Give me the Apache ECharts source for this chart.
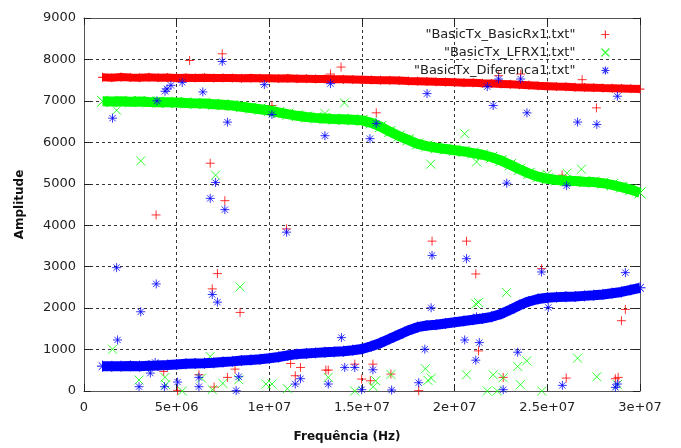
<!DOCTYPE html>
<html><head><meta charset="utf-8">
<script src="https://cdn.jsdelivr.net/npm/echarts@6/dist/echarts.min.js"></script>
<style>html,body{margin:0;padding:0;background:#fff}#c{width:681px;height:448px}</style>
</head><body><div id="c"></div>
<script>
// ---- data (frequency in MHz, amplitude) ----
const seriesNames = ['"BasicTx_BasicRx1.txt"', '"BasicTx_LFRX1.txt"', '"BasicTx_Diferenca1.txt"'];
const freqMHz = [1.0,1.5,2.0,2.5,3.0,3.5,4.0,4.5,5.0,5.5,6.0,6.5,7.0,7.5,8.0,8.5,9.0,9.5,10.0,10.5,11.0,11.5,12.0,12.5,13.0,13.5,14.0,14.5,15.0,15.5,16.0,16.5,17.0,17.5,18.0,18.5,19.0,19.5,20.0,20.5,21.0,21.5,22.0,22.5,23.0,23.5,24.0,24.5,25.0,25.5,26.0,26.5,27.0,27.5,28.0,28.5,29.0,29.5,30.0];
const basicRxBand = [7570,7560,7575,7565,7560,7570,7560,7565,7555,7560,7555,7560,7550,7555,7550,7545,7550,7545,7545,7540,7545,7535,7535,7530,7530,7525,7520,7515,7510,7505,7500,7495,7490,7480,7475,7470,7460,7455,7450,7440,7435,7425,7420,7410,7400,7390,7380,7365,7355,7345,7340,7330,7325,7320,7310,7305,7300,7295,7285];
const lfrxBand = [6990,6985,6990,6980,6985,6975,6970,6965,6960,6950,6940,6935,6920,6905,6890,6860,6830,6800,6770,6720,6680,6640,6610,6590,6575,6560,6555,6545,6530,6470,6380,6260,6150,6060,5960,5910,5870,5840,5810,5780,5740,5700,5640,5560,5460,5350,5250,5170,5120,5090,5075,5065,5050,5040,5015,4975,4920,4860,4780];
const diffBand = [600,595,600,605,600,610,615,625,640,655,665,670,680,700,715,735,750,765,790,820,860,890,905,920,935,945,960,985,1015,1080,1160,1260,1360,1460,1540,1580,1600,1630,1660,1690,1720,1750,1790,1860,1960,2070,2160,2220,2250,2265,2275,2280,2295,2310,2330,2360,2390,2440,2490];
const basicRxOutliers = [[5.7,7975],[7.46,8136],[10.14,6888],[13.3,7648],[13.87,7816],[15.77,6712],[22.37,7608],[23.56,7648],[25.8,5208],[26.88,7512],[27.65,6832],[6.81,5496],[7.6,4592],[3.89,4248],[10.93,3912],[7.2,2832],[6.92,2464],[8.42,1896],[18.78,3616],[20.64,3616],[21.14,2824],[24.69,2952],[29.21,1968],[29.0,1696],[21.29,968],[4.3,472],[5.05,16],[6.2,392],[7.02,96],[7.74,328],[8.15,528],[11.15,664],[11.4,368],[11.68,568],[13.05,504],[13.18,504],[14.61,648],[15.59,648],[14.98,288],[15.45,248],[16.56,408],[18.06,8],[22.62,328],[26.02,312],[28.82,328],[28.67,296]];
const lfrxOutliers = [[1.76,6775],[13.0,6696],[14.05,6952],[3.06,5552],[7.1,5208],[18.71,5472],[20.54,6208],[21.18,5528],[25.0,5232],[26.06,5256],[26.84,5352],[8.42,2512],[1.54,1008],[6.81,832],[22.8,2376],[21.14,2104],[21.29,2136],[23.89,728],[23.4,592],[26.63,792],[2.97,264],[4.37,328],[4.41,152],[5.3,0],[6.34,312],[6.92,32],[7.49,184],[8.35,272],[9.82,168],[10.14,168],[10.97,56],[13.18,328],[14.61,0],[15.74,248],[15.6,104],[16.56,400],[18.42,536],[18.56,256],[18.74,312],[20.64,392],[21.76,0],[22.08,392],[22.3,0],[22.62,320],[23.55,152],[24.7,0],[27.67,344],[28.78,152]];
const diffOutliers = [[7.46,7951],[1.54,6583],[3.94,7000],[4.37,7232],[4.48,7289],[4.69,7375],[5.3,7447],[6.41,7216],[7.74,6487],[9.73,7392],[10.14,6672],[13.0,6160],[13.3,7416],[15.77,6456],[15.43,6088],[18.51,7176],[21.76,7344],[22.37,7528],[22.08,6888],[23.56,7528],[23.9,6712],[22.81,5016],[26.04,4952],[26.63,6488],[27.67,6432],[28.78,7112],[7.1,5032],[6.81,4648],[7.6,4376],[10.93,3832],[1.76,2976],[3.9,2584],[6.92,2328],[7.2,2144],[3.06,1912],[1.81,1232],[13.89,1288],[18.78,3272],[20.64,3192],[24.69,2872],[29.21,2856],[18.73,2008],[21.18,1792],[25.05,2016],[20.54,1232],[21.33,1168],[18.39,1008],[21.14,744],[23.4,936],[15.59,512],[14.98,32],[16.6,24],[18.06,200],[22.62,32],[25.81,136],[28.78,168],[28.67,88],[3.58,432],[2.97,104],[4.34,104],[5.05,216],[6.2,328],[6.2,104],[8.21,8],[8.35,344],[11.4,168],[11.68,296],[13.18,168],[14.07,568],[14.61,568],[3.84,688]];

// ---- styles ----
const colors = ['#ff0000', '#00ff00', '#0000ff'];
const bandWidths = [8, 10, 10];
const symbols = [
  'path://M0,5L10,5M5,0L5,10',
  'path://M0,0L10,10M10,0L0,10',
  'path://M0,5L10,5M5,0L5,10M1.5,1.5L8.5,8.5M8.5,1.5L1.5,8.5'
];
const FONT = 'DejaVu Sans';
const toHz = mhz => mhz * 1e6;
const bandPts = band => freqMHz.map((f, i) => [toHz(f), band[i]]);
const outPts = arr => arr.map(p => [toHz(p[0]), p[1]]);
const bands = [basicRxBand, lfrxBand, diffBand];
const outs = [basicRxOutliers, lfrxOutliers, diffOutliers];

function fmtX(v) {
  if (v === 0) return '0';
  return v.toExponential().replace(/e\+(\d)$/, 'e+0$1');
}

const series = [];
for (let k = 0; k < 3; k++) {
  const st = {color: 'rgba(0,0,0,0)', borderColor: colors[k], borderWidth: 1};
  series.push({
    name: 'band' + k, type: 'line', data: bandPts(bands[k]),
    symbol: symbols[k], symbolSize: bandWidths[k] + 1, showSymbol: true,
    lineStyle: {color: colors[k], width: bandWidths[k]}, itemStyle: st,
    silent: true, animation: false, z: 2 + k
  });
  series.push({
    name: seriesNames[k], type: 'scatter', data: outPts(outs[k]),
    symbol: symbols[k], symbolSize: 9, itemStyle: st,
    silent: true, animation: false, z: 2 + k
  });
}

const axisLineStyle = {color: '#555', width: 1};
const chart = echarts.init(document.getElementById('c'), null, {renderer: 'canvas'});
chart.setOption({
  backgroundColor: '#fff',
  animation: false,
  grid: {left: 84, right: 41, top: 18, bottom: 55, containLabel: false},
  legend: {
    orient: 'vertical', right: 71, top: 28, align: 'right',
    itemWidth: 22, itemHeight: 8, itemGap: 5, padding: 0,
    symbolKeepAspect: true,
    data: seriesNames.map((n, k) => ({
      name: n, icon: symbols[k],
      itemStyle: {color: 'rgba(0,0,0,0)', borderColor: colors[k], borderWidth: 1.2}
    })),
    textStyle: {fontFamily: FONT, fontSize: 13, color: '#222', padding: [0, 14, 0, 0]},
    selectedMode: false
  },
  xAxis: [{
    type: 'value', min: 0, max: 3e7, interval: 5e6,
    name: 'Frequência (Hz)', nameLocation: 'middle', nameGap: 40,
    nameTextStyle: {fontFamily: FONT, fontSize: 12, fontWeight: 'bold', color: '#111', padding: [0, 30, 0, 0]},
    axisLine: {show: true, onZero: false, lineStyle: axisLineStyle},
    axisTick: {show: true, inside: true, length: 7, lineStyle: {color: '#222'}},
    axisLabel: {formatter: fmtX, fontFamily: FONT, fontSize: 13, color: '#222', margin: 10},
    splitLine: {show: true, lineStyle: {color: '#333', type: [3, 3], width: 1}}
  }, {
    type: 'value', min: 0, max: 3e7, interval: 5e6, position: 'top',
    axisLine: {show: true, onZero: false, lineStyle: axisLineStyle},
    axisTick: {show: true, inside: true, length: 7, lineStyle: {color: '#222'}},
    axisLabel: {show: false}, splitLine: {show: false}
  }],
  yAxis: [{
    type: 'value', min: 0, max: 9000, interval: 1000,
    name: 'Amplitude', nameLocation: 'middle', nameGap: 58, nameRotate: 90,
    nameTextStyle: {fontFamily: FONT, fontSize: 12, fontWeight: 'bold', color: '#111'},
    axisLine: {show: true, onZero: false, lineStyle: axisLineStyle},
    axisTick: {show: true, inside: true, length: 7, lineStyle: {color: '#222'}},
    axisLabel: {formatter: v => String(v), fontFamily: FONT, fontSize: 13, color: '#222', margin: 8},
    splitLine: {show: true, lineStyle: {color: '#333', type: [3, 3], width: 1}}
  }, {
    type: 'value', min: 0, max: 9000, interval: 1000, position: 'right',
    axisLine: {show: true, onZero: false, lineStyle: axisLineStyle},
    axisTick: {show: true, inside: true, length: 7, lineStyle: {color: '#222'}},
    axisLabel: {show: false}, splitLine: {show: false}
  }],
  series: series
});
</script>
</body></html>
